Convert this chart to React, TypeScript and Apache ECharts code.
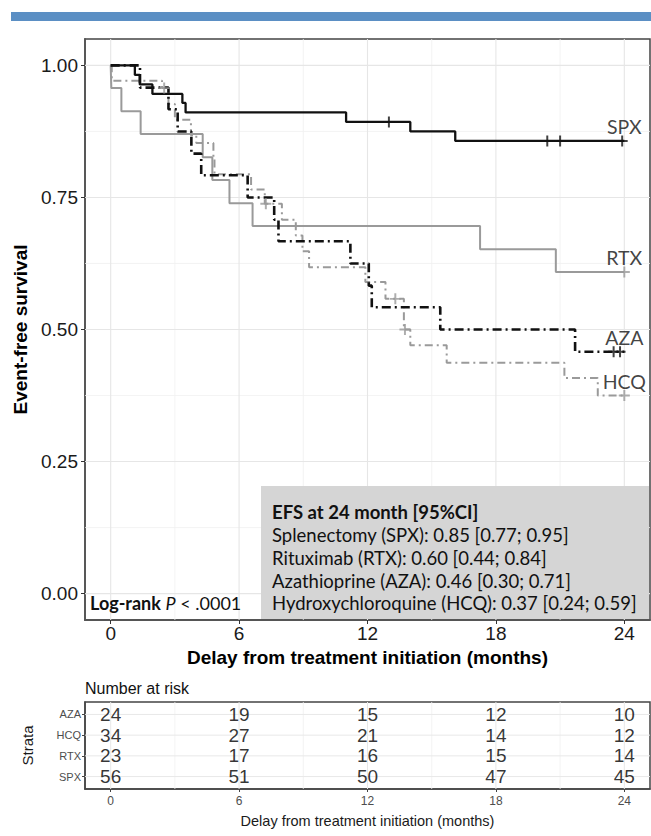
import React, { useEffect, useRef } from "react";
import * as echarts from "echarts";

// ---------- data ----------
const xMajor = [0, 6, 12, 18, 24];
const xMinor = [3, 9, 15, 21];
const yMajor = [0, 0.25, 0.5, 0.75, 1];
const yMinor = [0.125, 0.375, 0.625, 0.875];

const curveNames = ["SPX", "RTX", "AZA", "HCQ"];

const spxCurve = [[0, 1], [1.13, 0.982], [1.36, 0.964], [1.95, 0.946], [3.35, 0.929], [3.5, 0.911], [11.0, 0.893], [14.0, 0.875], [16.1, 0.857], [24, 0.857]];
const spxCensor = [[13.0, 0.893], [20.4, 0.857], [21.0, 0.857], [23.9, 0.857]];

const rtxCurve = [[0, 1], [0.03, 0.957], [0.5, 0.913], [1.4, 0.87], [4.3, 0.826], [4.75, 0.783], [5.55, 0.739], [6.63, 0.696], [17.26, 0.652], [20.8, 0.609], [24, 0.609]];
const rtxCensor = [[24, 0.609]];

const azaCurve = [[0, 1], [1.37, 0.958], [2.7, 0.917], [3.13, 0.875], [3.77, 0.833], [4.23, 0.792], [6.4, 0.75], [7.64, 0.708], [7.84, 0.667], [11.2, 0.625], [12.06, 0.583], [12.2, 0.542], [15.4, 0.5], [21.7, 0.458], [24, 0.458]];
const azaCensor = [[23.5, 0.458], [23.8, 0.458]];

const hcqCurve = [[0, 1], [0.05, 0.971], [2.4, 0.957], [2.7, 0.927], [3.0, 0.897], [3.75, 0.868], [4.0, 0.853], [4.8, 0.823], [4.85, 0.794], [6.56, 0.765], [7.2, 0.738], [8.0, 0.708], [8.65, 0.678], [8.96, 0.648], [9.27, 0.618], [11.9, 0.59], [12.84, 0.558], [13.7, 0.5], [14.0, 0.47], [15.7, 0.437], [21.2, 0.408], [22.76, 0.375], [24, 0.375]];
const hcqCensor = [[2.5, 0.957], [7.25, 0.738], [13.3, 0.558], [13.75, 0.5], [24, 0.375]];

const riskTimes = [0, 6, 12, 18, 24];
const strata = ["SPX", "RTX", "HCQ", "AZA"]; // bottom to top
const riskSPX = [56, 51, 50, 47, 45];
const riskRTX = [23, 17, 16, 15, 14];
const riskHCQ = [34, 27, 21, 14, 12];
const riskAZA = [24, 19, 15, 12, 10];

const efsTitle = "EFS at 24 month [95%CI]";
const efsLines = [
  "Splenectomy (SPX): 0.85 [0.77; 0.95]",
  "Rituximab (RTX): 0.60 [0.44; 0.84]",
  "Azathioprine (AZA): 0.46 [0.30; 0.71]",
  "Hydroxychloroquine (HCQ): 0.37 [0.24; 0.59]",
];

// ---------- styling ----------
const BLACK = "#111111";
const GRAY = "#9a9a9a";
const SANS = "'Liberation Sans', Arial, sans-serif";
const CAL = "Lato, 'Open Sans', sans-serif";
const PLUS = "path://M4.1,0H5.9V4.1H10V5.9H5.9V10H4.1V5.9H0V4.1H4.1Z";
const BOXFS = 18.5;

function gridLines(xi: number, xs: number[], ys: number[], xr: number[], yr: number[], color: string, width: number) {
  const out: any[] = [];
  xs.forEach((v) =>
    out.push({ type: "line", xAxisIndex: xi, yAxisIndex: xi, data: [[v, yr[0]], [v, yr[1]]], showSymbol: false, silent: true, z: 1, lineStyle: { color, width } })
  );
  ys.forEach((v) =>
    out.push({ type: "line", xAxisIndex: xi, yAxisIndex: xi, data: [[xr[0], v], [xr[1], v]], showSymbol: false, silent: true, z: 1, lineStyle: { color, width } })
  );
  return out;
}

export default function App() {
  const ref = useRef<HTMLDivElement>(null);
  useEffect(() => {
    document.body.style.margin = "0";
    const chart = echarts.init(ref.current!, null, { renderer: "svg" });
    const XR = [-1.2, 25.2];
    const YR = [-0.05, 1.05];
    const TYR = [0.4, 4.6];

    const curves = [
      { name: curveNames[3], data: hcqCurve, censor: hcqCensor, color: GRAY, width: 2, type: [8, 4, 2, 4] },
      { name: curveNames[1], data: rtxCurve, censor: rtxCensor, color: GRAY, width: 2, type: "solid" },
      { name: curveNames[2], data: azaCurve, censor: azaCensor, color: BLACK, width: 2.6, type: [9, 4, 2, 4] },
      { name: curveNames[0], data: spxCurve, censor: spxCensor, color: BLACK, width: 2.3, type: "solid" },
    ];

    const series: any[] = [];
    series.push(...gridLines(0, xMinor, yMinor, XR, YR, "#f0f0f0", 0.8));
    series.push(...gridLines(0, xMajor, yMajor, XR, YR, "#e6e6e6", 1.1));
    series.push(...gridLines(1, xMinor, [], XR, TYR, "#f0f0f0", 0.8));
    series.push(...gridLines(1, xMajor, [1, 2, 3, 4], XR, TYR, "#e8e8e8", 1));

    curves.forEach((c) => {
      series.push({
        type: "line", name: c.name, xAxisIndex: 0, yAxisIndex: 0, step: "end", data: c.data,
        showSymbol: false, z: 3, lineStyle: { color: c.color, width: c.width, type: c.type },
      });
      series.push({
        type: "scatter", xAxisIndex: 0, yAxisIndex: 0, data: c.censor, symbol: PLUS, symbolSize: 11, z: 4,
        itemStyle: { color: c.color },
      });
      const last = c.data[c.data.length - 1];
      series.push({
        type: "scatter", xAxisIndex: 0, yAxisIndex: 0, data: [last], symbolSize: 0, z: 4,
        label: { show: true, position: "top", distance: 4, formatter: c.name, fontFamily: CAL, fontSize: 19.5, color: "#111" },
      });
    });

    const risk = [riskSPX, riskRTX, riskHCQ, riskAZA];
    const riskData: any[] = [];
    risk.forEach((row, ri) => row.forEach((n, ti) => riskData.push([riskTimes[ti], ri + 1, n])));
    series.push({
      type: "scatter", xAxisIndex: 1, yAxisIndex: 1, data: riskData, symbolSize: 0, z: 4,
      label: { show: true, position: "inside", formatter: (p: any) => String(p.value[2]), fontFamily: SANS, fontSize: 19, color: "#000" },
    });

    chart.setOption({
      animation: false,
      grid: [
        { left: 85, top: 39, width: 565, height: 581, show: true, borderColor: "#444", borderWidth: 1.5, backgroundColor: "transparent" },
        { left: 85, top: 702, width: 565, height: 87, show: true, borderColor: "#444", borderWidth: 1.5, backgroundColor: "transparent" },
      ],
      xAxis: [
        {
          type: "value", gridIndex: 0, min: XR[0], max: XR[1], splitLine: { show: false },
          axisLine: { show: true, onZero: false, lineStyle: { color: "#555", width: 1.8 } },
          axisTick: { show: true, customValues: xMajor, length: 4, lineStyle: { color: "#333", width: 1 } },
          axisLabel: { customValues: xMajor, fontFamily: SANS, fontSize: 19, color: "#1a1a1a", margin: 4 },
          name: "Delay from treatment initiation (months)", nameLocation: "middle", nameGap: 27,
          nameTextStyle: { fontFamily: SANS, fontSize: 19, fontWeight: "bold", color: "#000" },
        },
        {
          type: "value", gridIndex: 1, min: XR[0], max: XR[1], splitLine: { show: false },
          axisLine: { show: true, onZero: false, lineStyle: { color: "#444", width: 1.5 } },
          axisTick: { show: true, customValues: xMajor, length: 3, lineStyle: { color: "#444" } },
          axisLabel: { customValues: xMajor, fontFamily: SANS, fontSize: 12, color: "#4d4d4d", margin: 6 },
          name: "Delay from treatment initiation (months)", nameLocation: "middle", nameGap: 24,
          nameTextStyle: { fontFamily: SANS, fontSize: 14.5, color: "#1a1a1a" },
        },
      ],
      yAxis: [
        {
          type: "value", gridIndex: 0, min: YR[0], max: YR[1], splitLine: { show: false },
          axisLine: { show: true, onZero: false, lineStyle: { color: "#555", width: 1.8 } },
          axisTick: { show: true, customValues: yMajor, length: 4, lineStyle: { color: "#333", width: 1 } },
          axisLabel: { customValues: yMajor, formatter: (v: number) => v.toFixed(2), fontFamily: SANS, fontSize: 19, color: "#1a1a1a", margin: 7 },
          name: "Event-free survival", nameLocation: "middle", nameGap: 47,
          nameTextStyle: { fontFamily: SANS, fontSize: 19, fontWeight: "bold", color: "#000" },
        },
        {
          type: "value", gridIndex: 1, min: TYR[0], max: TYR[1], splitLine: { show: false },
          axisLine: { show: true, onZero: false, lineStyle: { color: "#444", width: 1.5 } },
          axisTick: { show: true, customValues: [1, 2, 3, 4], length: 3, lineStyle: { color: "#444" } },
          axisLabel: { customValues: [1, 2, 3, 4], formatter: (v: number) => strata[Math.round(v) - 1] || "", fontFamily: SANS, fontSize: 11, color: "#4d4d4d", margin: 4 },
          name: "Strata", nameLocation: "middle", nameGap: 50,
          nameTextStyle: { fontFamily: SANS, fontSize: 15, color: "#1a1a1a" },
        },
      ],
      graphic: [
        { type: "rect", z: 10, shape: { x: 11, y: 12, width: 640, height: 9 }, style: { fill: "#5b8fc4" } },
        { type: "rect", z: 10, shape: { x: 261, y: 486, width: 388, height: 133 }, style: { fill: "#d5d5d5" } },
        {
          type: "text", z: 11, x: 272, y: 512,
          style: { text: efsTitle, fontFamily: CAL, fontSize: BOXFS, fontWeight: "bold", fill: "#111", verticalAlign: "middle" },
        },
        ...efsLines.map((t, i) => ({
          type: "text", z: 11, x: 272, y: 535 + i * 22.8,
          style: { text: t, fontFamily: CAL, fontSize: BOXFS, fill: "#111", verticalAlign: "middle" },
        })),
        {
          type: "text", z: 11, x: 90, y: 603,
          style: {
            text: "{b|Log-rank} {i|P} {n|< .0001}", fontFamily: CAL, fontSize: 18, fill: "#111", verticalAlign: "middle",
            rich: {
              b: { fontFamily: CAL, fontSize: 18, fontWeight: "bold", fill: "#111" },
              i: { fontFamily: CAL, fontSize: 18, fontStyle: "italic", fill: "#111" },
              n: { fontFamily: CAL, fontSize: 18, fill: "#111" },
            },
          },
        },
        {
          type: "text", z: 11, x: 85, y: 688,
          style: { text: "Number at risk", fontFamily: SANS, fontSize: 16, fill: "#111", verticalAlign: "middle" },
        },
      ],
      series,
    });
    return () => chart.dispose();
  }, []);
  return <div ref={ref} style={{ width: 651, height: 836 }} />;
}
